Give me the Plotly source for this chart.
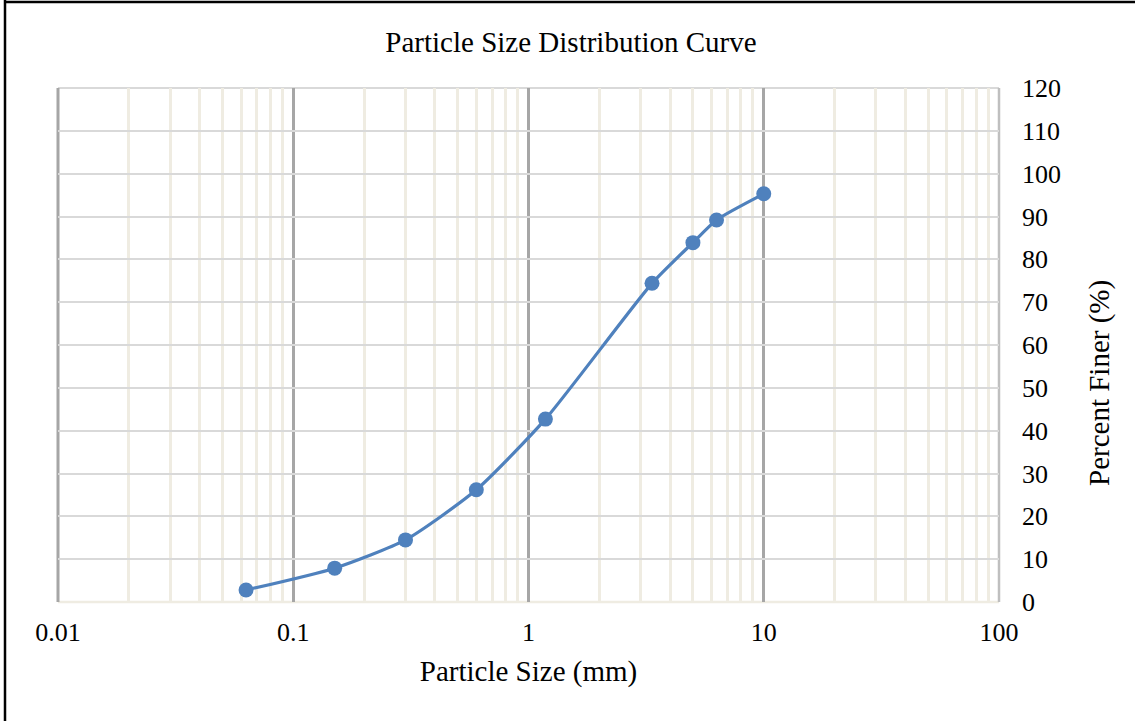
import plotly.graph_objects as go

sizes_mm = [0.063, 0.15, 0.3, 0.6, 1.18, 3.35, 5.0, 6.3, 10.0]
percent_finer = [2.8, 7.9, 14.5, 26.2, 42.7, 74.4, 83.9, 89.2, 95.3]
x_ticks = [0.01, 0.1, 1, 10, 100]
x_tick_labels = ["0.01", "0.1", "1", "10", "100"]
minor_vals = [m * d for d in [0.01, 0.1, 1, 10] for m in range(2, 10)]

W, H = 1135, 721
L, R, T, B = 58, 136, 88, 119
PW, PH = W - L - R, H - T - B
FONT = "Liberation Serif"


def px_x(p):
    return (p - L) / PW


def px_y(p):
    return (H - B - p) / PH


fig = go.Figure()
fig.add_trace(go.Scatter(
    x=sizes_mm, y=percent_finer, mode="lines+markers",
    line=dict(color="#4f81bd", width=3.2, shape="spline", smoothing=0.6),
    marker=dict(color="#4f81bd", size=15),
    showlegend=False, hoverinfo="x+y",
))

fig.update_layout(
    width=W, height=H,
    margin=dict(l=L, r=R, t=T, b=B),
    paper_bgcolor="white", plot_bgcolor="white",
    font=dict(family=FONT, color="black", size=26),
    title=dict(text="Particle Size Distribution Curve", x=571 / W, xanchor="center",
               y=1 - 42 / H, yanchor="middle", font=dict(size=29, family=FONT)),
    xaxis=dict(
        type="log", range=[-2, 2], tickvals=x_ticks, ticktext=x_tick_labels,
        showgrid=True, gridcolor="#a6a6a6", gridwidth=2.5,
        minor=dict(tickvals=minor_vals, showgrid=True, gridcolor="#efece2", gridwidth=2.5, ticks=""),
        zeroline=False, showline=False, ticks="", ticklabelstandoff=12,
        tickfont=dict(size=26, family=FONT),
        title=dict(text="Particle Size (mm)", font=dict(size=29, family=FONT), standoff=14),
    ),
    yaxis=dict(
        side="right", range=[0, 120], dtick=10, tick0=0,
        showgrid=True, gridcolor="#d9d9d9", gridwidth=1.5,
        zeroline=False, showline=False, ticks="", ticklabelstandoff=22,
        tickfont=dict(size=26, family=FONT),
    ),
    annotations=[dict(
        text="Percent Finer (%)", textangle=-90, xref="paper", yref="paper",
        x=px_x(1099), y=px_y(383),
        xanchor="center", yanchor="middle", showarrow=False,
        font=dict(size=29, family=FONT, color="black"),
    )],
    shapes=[
        # outer chart border (left and top)
        dict(type="line", xref="paper", yref="paper",
             x0=px_x(5), x1=px_x(5), y0=px_y(0), y1=px_y(H),
             line=dict(color="black", width=2.5)),
        dict(type="line", xref="paper", yref="paper",
             x0=px_x(5), x1=px_x(W), y0=px_y(2), y1=px_y(2),
             line=dict(color="black", width=2.5)),
        # plot-area edges
        dict(type="line", xref="paper", yref="paper", x0=0, x1=1, y0=1, y1=1,
             line=dict(color="#d9d9d9", width=2), layer="between"),
        dict(type="line", xref="paper", yref="paper", x0=0, x1=1, y0=0, y1=0,
             line=dict(color="#efece2", width=2.5), layer="between"),
        dict(type="line", xref="paper", yref="paper", x0=0, x1=0, y0=0, y1=1,
             line=dict(color="#a6a6a6", width=3), layer="between"),
        dict(type="line", xref="paper", yref="paper", x0=1, x1=1, y0=0, y1=1,
             line=dict(color="#bfbfbf", width=2.5), layer="between"),
    ],
)

fig.write_html("out.html")
